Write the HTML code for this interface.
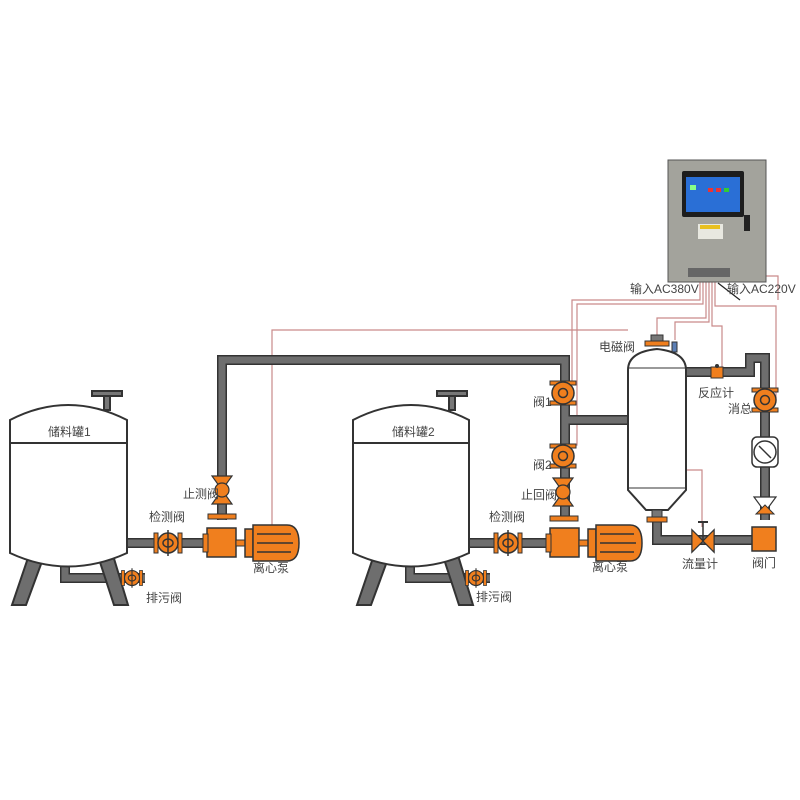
<!DOCTYPE html>
<html><head><meta charset="utf-8"><style>
html,body{margin:0;padding:0;background:#fff;}
svg{display:block;}
text{font-family:"Liberation Sans","Noto Sans CJK SC",sans-serif;fill:#444;font-size:12px;}
</style></head><body>
<svg width="800" height="800" viewBox="0 0 800 800" xmlns="http://www.w3.org/2000/svg">
<defs>
<g id="rv">
<rect x="-13" y="-12" width="26" height="4" fill="#f07f1e" stroke="#333" stroke-width="1"/>
<rect x="-13" y="8" width="26" height="4" fill="#f07f1e" stroke="#333" stroke-width="1"/>
<circle r="11" fill="#f07f1e" stroke="#333" stroke-width="1.5"/>
<circle r="4.5" fill="none" stroke="#333" stroke-width="1.5"/>
</g>
<g id="bv">
<polygon points="-10,-14 10,-14 0,0" fill="#f07f1e" stroke="#333" stroke-width="1.2"/>
<polygon points="-10,14 10,14 0,0" fill="#f07f1e" stroke="#333" stroke-width="1.2"/>
<circle r="7" fill="#f07f1e" stroke="#333" stroke-width="1.2"/>
</g>
<g id="hv">
<rect x="-14" y="-10" width="4" height="20" fill="#f07f1e" stroke="#333"/>
<rect x="10" y="-10" width="4" height="20" fill="#f07f1e" stroke="#333"/>
<circle r="10" fill="#f07f1e" stroke="#333" stroke-width="1.5"/>
<ellipse rx="5" ry="4" fill="#f07f1e" stroke="#333" stroke-width="1.5"/>
<line x1="0" y1="-13" x2="0" y2="13" stroke="#333" stroke-width="1.5"/>
</g>
<g id="pump">
<rect x="0" y="-15" width="29" height="29" fill="#f07f1e" stroke="#333" stroke-width="1.5"/>
<rect x="-4" y="-9" width="5" height="18" fill="#f07f1e" stroke="#333"/>
<rect x="29" y="-3" width="10" height="6" fill="#f07f1e" stroke="#333"/>
<rect x="38" y="-14" width="8" height="28" fill="#f07f1e" stroke="#333" stroke-width="1.5"/>
<path d="M46,-18 H80 Q92,-18 92,0 Q92,18 80,18 H46 Z" fill="#f07f1e" stroke="#333" stroke-width="1.5"/>
<line x1="50" y1="-9" x2="84" y2="-9" stroke="#333" stroke-width="1.5"/>
<line x1="50" y1="0" x2="86" y2="0" stroke="#333" stroke-width="1.5"/>
<line x1="50" y1="9" x2="84" y2="9" stroke="#333" stroke-width="1.5"/>
</g>
</defs>

<g fill="none" stroke="#c98a8a" stroke-width="1.2">
<path d="M272,525 V330 H628"/>
<path d="M700,282 V300 H572 V385 H565"/>
<path d="M703,282 V304 H577 V445 H565"/>
<path d="M706,282 V318 H657 V335"/>
<path d="M709,282 V322 H675 V340"/>
<path d="M712,282 V326 H722 V370"/>
<path d="M715,282 V306 H776 V398 H770"/>
<path d="M687,470 H702 V527"/>
<path d="M755,276 H778 V300"/>
</g>
<path d="M718,283 L740,300" stroke="#222" stroke-width="1.2"/>

<g fill="none" stroke="#333" stroke-width="10" stroke-linejoin="miter">
<path d="M222,520 V360 H565 V520"/>
<path d="M127,543 H210"/><path d="M470,543 H550"/>
<path d="M565,420 H628"/>
<path d="M657,520 V540 H765"/>
<path d="M686,372 H750 V358 H765 V520"/>
<path d="M65,560 V578 H145"/><path d="M410,560 V578 H490"/>
</g>
<g fill="none" stroke="#6e6e6e" stroke-width="7" stroke-linejoin="miter">
<path d="M222,520 V360 H565 V520"/>
<path d="M127,543 H210"/><path d="M470,543 H550"/>
<path d="M565,420 H628"/>
<path d="M657,520 V540 H765"/>
<path d="M686,372 H750 V358 H765 V520"/>
<path d="M65,560 V578 H145"/><path d="M410,560 V578 H490"/>
</g>

<g stroke="#333" stroke-width="2">
<rect x="92" y="391" width="30" height="5" fill="#777"/>
<rect x="104" y="396" width="6" height="14" fill="#777"/>
<rect x="437" y="391" width="30" height="5" fill="#777"/>
<rect x="449" y="396" width="6" height="14" fill="#777"/>
<polygon points="30,552 44,556 26,605 12,605" fill="#6e6e6e"/>
<polygon points="98,556 112,552 128,605 114,605" fill="#6e6e6e"/>
<polygon points="375,552 389,556 371,605 357,605" fill="#6e6e6e"/>
<polygon points="443,556 457,552 473,605 459,605" fill="#6e6e6e"/>
<path d="M10,420 Q68,390 127,420 V553 Q68,580 10,553 Z" fill="#fff"/>
<line x1="10" y1="443" x2="127" y2="443"/>
<path d="M353,420 Q411,390 469,420 V553 Q411,580 353,553 Z" fill="#fff"/>
<line x1="353" y1="443" x2="469" y2="443"/>
</g>
<text x="48" y="436" font-size="13">储料罐1</text>
<text x="392" y="436" font-size="13">储料罐2</text>

<use href="#hv" x="168" y="543"/>
<g transform="translate(132,578) scale(0.75)"><use href="#hv"/></g>
<use href="#bv" x="222" y="490"/>
<rect x="208" y="514" width="28" height="5" fill="#f07f1e" stroke="#333"/>
<use href="#pump" x="207" y="543"/>
<text x="149" y="521">检测阀</text>
<text x="183" y="498">止测阀</text>
<text x="146" y="602">排污阀</text>
<text x="253" y="572">离心泵</text>

<use href="#hv" x="508" y="543"/>
<g transform="translate(476,578) scale(0.75)"><use href="#hv"/></g>
<use href="#bv" x="563" y="492"/>
<rect x="550" y="516" width="28" height="5" fill="#f07f1e" stroke="#333"/>
<use href="#pump" x="550" y="543"/>
<use href="#rv" x="563" y="393"/>
<use href="#rv" x="563" y="456"/>
<text x="489" y="521">检测阀</text>
<text x="521" y="499">止回阀</text>
<text x="533" y="406">阀1</text>
<text x="533" y="469">阀2</text>
<text x="476" y="601">排污阀</text>
<text x="592" y="571">离心泵</text>

<rect x="651" y="335" width="12" height="8" fill="#777" stroke="#333"/>
<rect x="645" y="341" width="24" height="5" fill="#f07f1e" stroke="#333"/>
<rect x="672" y="342" width="5" height="10" fill="#5b7fb5" stroke="#333"/>
<path d="M628,370 Q628,352 657,349 Q686,352 686,370 V490 L668,510 H646 L628,490 Z" fill="#fff" stroke="#333" stroke-width="2"/>
<line x1="628" y1="368" x2="686" y2="368" stroke="#333"/>
<line x1="628" y1="488" x2="686" y2="488" stroke="#333"/>
<rect x="652" y="510" width="10" height="8" fill="#777" stroke="#333"/>
<rect x="647" y="517" width="20" height="5" fill="#f07f1e" stroke="#333"/>
<text x="599" y="351">电磁阀</text>

<rect x="711" y="367" width="12" height="11" fill="#f07f1e" stroke="#333"/>
<circle cx="717" cy="366" r="2" fill="#333"/>
<text x="698" y="397">反应计</text>
<use href="#rv" x="765" y="400"/>
<text x="728" y="413">消总</text>
<rect x="752" y="437" width="26" height="30" rx="5" fill="#fff" stroke="#333" stroke-width="1.5"/>
<circle cx="765" cy="452" r="11" fill="#fff" stroke="#333" stroke-width="1.5"/>
<line x1="759" y1="446" x2="771" y2="458" stroke="#333" stroke-width="1.5"/>
<polygon points="754,497 776,497 765,512" fill="#fff" stroke="#333" stroke-width="1.2"/>
<polygon points="756,514 774,514 765,505" fill="#f07f1e" stroke="#333"/>
<rect x="752" y="527" width="24" height="24" fill="#f07f1e" stroke="#333" stroke-width="1.5"/>
<text x="752" y="567">阀门</text>
<polygon points="692,530 714,552 714,530 692,552" fill="#fff" stroke="#333" stroke-width="1.5"/>
<polygon points="692,530 703,541 692,552" fill="#f07f1e" stroke="#333"/>
<polygon points="714,530 703,541 714,552" fill="#f07f1e" stroke="#333"/>
<line x1="703" y1="522" x2="703" y2="541" stroke="#333" stroke-width="1.5"/>
<line x1="698" y1="522" x2="708" y2="522" stroke="#333" stroke-width="2"/>
<text x="682" y="568">流量计</text>

<rect x="668" y="160" width="98" height="122" fill="#a3a39c" stroke="#555"/>
<rect x="682" y="171" width="62" height="46" rx="2" fill="#1d1d1d"/>
<rect x="686" y="177" width="54" height="35" fill="#2a6fd6"/>
<rect x="690" y="185" width="6" height="5" fill="#8f8"/>
<rect x="708" y="188" width="5" height="4" fill="#e33"/>
<rect x="716" y="188" width="5" height="4" fill="#e33"/>
<rect x="724" y="188" width="5" height="4" fill="#3c3"/>
<rect x="698" y="224" width="25" height="15" fill="#e8e8e0"/>
<rect x="700" y="225" width="20" height="4" fill="#e8c020"/>
<rect x="744" y="215" width="6" height="16" fill="#222"/>
<rect x="688" y="268" width="42" height="9" fill="#666"/>
<text x="630" y="293" font-size="12" fill="#333">输入AC380V</text>
<text x="727" y="293" font-size="12" fill="#333">输入AC220V</text>
</svg>
</body></html>
